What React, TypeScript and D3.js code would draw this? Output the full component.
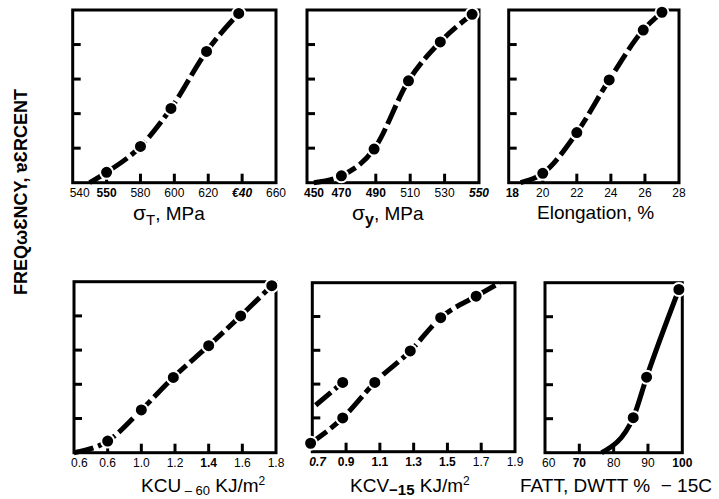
import React from 'react';
import * as d3 from 'd3';

// ---------------- DATA ----------------
const yTickValues = [20, 40, 60, 80];

// Panel 1: sigma_T, MPa
const sigmaTTicks = [540, 560, 580, 600, 620, 640, 660];
const sigmaTTickLabels = ['540', '550', '580', '600', '620', '€40', '660'];
const sigmaTX = [560, 580, 598, 619, 638];
const sigmaTY = [6, 21, 43, 76, 98];
const sigmaTStart = [550, 0];

// Panel 2: sigma_y, MPa
const sigmaYTicks = [450, 470, 490, 510, 530, 550];
const sigmaYTickLabels = ['450', '470', '490', '510', '530', '550'];
const sigmaYX = [470, 489, 509, 527.5, 546];
const sigmaYY = [4, 19.5, 59, 81.5, 97.5];
const sigmaYStart = [454, 0];

// Panel 3: Elongation, %
const elongTicks = [18, 20, 22, 24, 26, 28];
const elongTickLabels = ['18', '20', '22', '24', '26', '28'];
const elongX = [20, 22, 23.9, 25.9, 27];
const elongY = [5.4, 29, 59.5, 88.4, 98.7];
const elongStart = [18.7, 0];

// Panel 4: KCU-60
const kcuTicks = [0.6, 0.8, 1.0, 1.2, 1.4, 1.6, 1.8];
const kcuTickLabels = ['0.6', '0.6', '1.0', '1.2', '1.4', '1.6', '1.8'];
const kcuX = [0.8, 1.0, 1.19, 1.4, 1.59, 1.775];
const kcuY = [6.8, 25, 44, 62.6, 80, 97.7];
const kcuStart = [0.6, 0];

// Panel 5: KCV-15
const kcvTicks = [0.7, 0.9, 1.1, 1.3, 1.5, 1.7, 1.9];
const kcvTickLabels = ['0.7', '0.9', '1.1', '1.3', '1.5', '1.7', '1.9'];
const kcvX = [0.69, 0.88, 1.07, 1.28, 1.46, 1.67];
const kcvY = [5, 20, 41, 59.6, 79.3, 92];
const kcvEnd = [1.81, 100];
const kcv2X = [0.88];
const kcv2Y = [41];
const kcv2Start = [0.72, 27.5];

// Panel 6: FATT, DWTT
const fattTicks = [60, 70, 80, 90, 100];
const fattTickLabels = ['60', '70', '80', '90', '100'];
const fattX = [85.7, 89.6, 99];
const fattY = [20.6, 44.4, 96];
const fattStart = [76.5, 0];

// ---------------- LAYOUT / STYLE ----------------
const FONT = "'Liberation Sans', Arial, Helvetica, sans-serif";

type W8 = 'n' | 'b' | 'bi';

interface PanelCfg {
  x0: number; x1: number; y0: number; y1: number;
  domain: [number, number];
  ticks: number[]; labels: string[]; weights: W8[];
  series: { x: number[]; y: number[]; start?: number[]; end?: number[] }[];
  dash: string;
  title: React.ReactNode;
  titleX: number; titleY: number;
}

const mk = (x: number[], y: number[], start?: number[], end?: number[]) => ({ x, y, start, end });

const panels: PanelCfg[] = [
  {
    x0: 72.7, x1: 276, y0: 10, y1: 182.7, domain: [540, 660],
    ticks: sigmaTTicks, labels: sigmaTTickLabels, weights: ['n', 'b', 'n', 'n', 'n', 'bi', 'n'],
    series: [mk(sigmaTX, sigmaTY, sigmaTStart)], dash: '20,5',
    title: (<><tspan fontSize={21}>σ</tspan><tspan fontSize={15} dy={5}>T</tspan><tspan dy={-5}>, MPa</tspan></>),
    titleX: 133, titleY: 219.5,
  },
  {
    x0: 307, x1: 479, y0: 10, y1: 182.7, domain: [450, 550],
    ticks: sigmaYTicks, labels: sigmaYTickLabels, weights: ['b', 'b', 'b', 'n', 'n', 'bi'],
    series: [mk(sigmaYX, sigmaYY, sigmaYStart)], dash: '20,5',
    title: (<><tspan fontSize={21}>σ</tspan><tspan fontSize={16} fontWeight="bold" dy={5}>y</tspan><tspan dy={-5}>, MPa</tspan></>),
    titleX: 352, titleY: 219.5,
  },
  {
    x0: 508.7, x1: 679, y0: 10, y1: 182.7, domain: [18, 28],
    ticks: elongTicks, labels: elongTickLabels, weights: ['b', 'n', 'n', 'n', 'n', 'n'],
    series: [mk(elongX, elongY, elongStart)], dash: '20,5',
    title: <>Elongation, %</>,
    titleX: 537, titleY: 219,
  },
  {
    x0: 74, x1: 276, y0: 281.7, y1: 452.7, domain: [0.6, 1.8],
    ticks: kcuTicks, labels: kcuTickLabels, weights: ['n', 'n', 'n', 'n', 'b', 'n', 'n'],
    series: [mk(kcuX, kcuY, kcuStart)], dash: '20,5',
    title: (<>KCU<tspan fontSize={13} dy={3}> – 60</tspan><tspan dy={-3}> KJ/m</tspan><tspan fontSize={12} dy={-7}>2</tspan></>),
    titleX: 141, titleY: 492,
  },
  {
    x0: 312.3, x1: 515, y0: 282.7, y1: 451.7, domain: [0.7, 1.9],
    ticks: kcvTicks, labels: kcvTickLabels, weights: ['bi', 'b', 'b', 'b', 'b', 'n', 'n'],
    series: [mk(kcvX, kcvY, undefined, kcvEnd), mk(kcv2X, kcv2Y, kcv2Start)], dash: '20,5',
    title: (<>KCV<tspan fontSize={15} fontWeight="bold" dy={3}>−15</tspan><tspan dy={-3}> KJ/m</tspan><tspan fontSize={12} dy={-7}>2</tspan></>),
    titleX: 350, titleY: 492,
  },
  {
    x0: 545, x1: 682.3, y0: 282.7, y1: 452.7, domain: [60, 100],
    ticks: fattTicks, labels: fattTickLabels, weights: ['n', 'b', 'n', 'n', 'b'],
    series: [mk(fattX, fattY, fattStart)], dash: 'none',
    title: <>FATT, DWTT %{'\u00a0\u00a0'}− 15C</>,
    titleX: 520, titleY: 492,
  },
];

function Panel({ p }: { p: PanelCfg }) {
  const x = d3.scaleLinear().domain(p.domain).range([p.x0, p.x1]);
  const y = d3.scaleLinear().domain([0, 100]).range([p.y1, p.y0]);
  const line = d3
    .line<number[]>()
    .x((d) => x(d[0]))
    .y((d) => y(d[1]))
    .curve(d3.curveMonotoneX);
  const labelY = p.y1 + 14.5;
  return (
    <g>
      <rect x={p.x0} y={p.y0} width={p.x1 - p.x0} height={p.y1 - p.y0} fill="none" stroke="#000" strokeWidth={3} />
      {yTickValues.map((v) => (
        <line key={'y' + v} x1={p.x0} x2={p.x0 + 8} y1={y(v)} y2={y(v)} stroke="#000" strokeWidth={3} />
      ))}
      {p.ticks.slice(1, -1).map((v) => (
        <line key={'x' + v} x1={x(v)} x2={x(v)} y1={p.y1} y2={p.y1 - 9} stroke="#000" strokeWidth={3} />
      ))}
      {p.ticks.map((v, i) => {
        const w = p.weights[i];
        const first = i === 0;
        return (
          <text
            key={'l' + i}
            x={first ? p.x0 - 3 : x(v)}
            y={labelY}
            textAnchor={first ? 'start' : 'middle'}
            fontSize={12}
            fontFamily={FONT}
            fontWeight={w === 'n' ? 'normal' : 'bold'}
            fontStyle={w === 'bi' ? 'italic' : 'normal'}
            fill="#000"
          >
            {p.labels[i]}
          </text>
        );
      })}
      {p.series.map((s, si) => {
        const pts: number[][] = [];
        if (s.start) pts.push(s.start);
        s.x.forEach((xv, i) => pts.push([xv, s.y[i]]));
        if (s.end) pts.push(s.end);
        return (
          <g key={'s' + si}>
            <path d={line(pts) || ''} fill="none" stroke="#000" strokeWidth={5} strokeDasharray={p.dash} />
            {s.x.map((xv, i) => (
              <circle key={i} cx={x(xv)} cy={y(s.y[i])} r={6.5} fill="#000" stroke="#fff" strokeWidth={2} />
            ))}
          </g>
        );
      })}
      <text x={p.titleX} y={p.titleY} fontSize={19} fontFamily={FONT} fill="#000">
        {p.title}
      </text>
    </g>
  );
}

export default function App() {
  return (
    <div style={{ position: 'absolute', left: 0, top: 0, width: 719, height: 499, background: '#fff' }}>
      <svg width={719} height={499} viewBox="0 0 719 499" style={{ display: 'block' }}>
        <rect x={0} y={0} width={719} height={499} fill="#fff" />
        {panels.map((p, i) => (
          <Panel key={i} p={p} />
        ))}
        <text
          transform="translate(27,192) rotate(-90)"
          textAnchor="middle"
          fontSize={18}
          fontWeight="bold"
          fontFamily={FONT}
          fill="#000"
        >
          FREQωƐNCY, ɐƐRCENT
        </text>
      </svg>
    </div>
  );
}
